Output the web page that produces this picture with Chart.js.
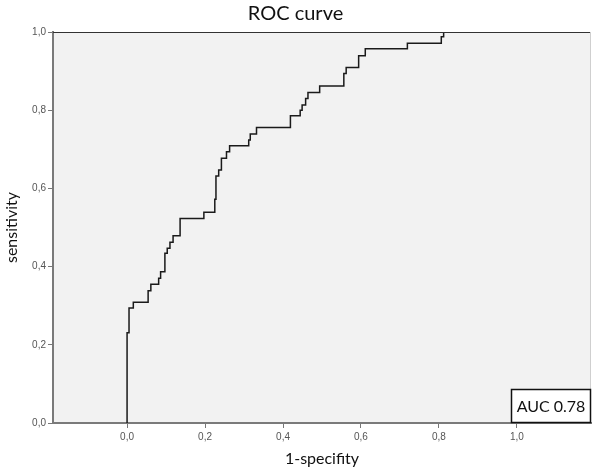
<!DOCTYPE html>
<html>
<head>
    <style>
        body {
            margin: 0;
            background: #fff;
        }
    </style>
    <script src="https://cdn.jsdelivr.net/npm/chart.js"></script>
</head>
<body>
    <canvas id="rocChart" width="600" height="472"></canvas>

    <script>
        // ROC step curve (1-specificity, sensitivity)
        const fpr = [0, 0, 0.005, 0.016, 0.054, 0.061, 0.081, 0.086, 0.097, 0.103, 0.110, 0.118, 0.136,
            0.197, 0.225, 0.228, 0.235, 0.242, 0.255, 0.263, 0.312, 0.316, 0.332, 0.419, 0.444, 0.449,
            0.458, 0.464, 0.494, 0.556, 0.562, 0.594, 0.611, 0.719, 0.806, 0.812, 1.0];
        const tpr = [0, 0.231, 0.294, 0.309, 0.338, 0.355, 0.370, 0.387, 0.434, 0.447, 0.462, 0.479, 0.523,
            0.539, 0.572, 0.632, 0.647, 0.677, 0.694, 0.709, 0.724, 0.739, 0.756, 0.786, 0.800, 0.813,
            0.830, 0.845, 0.862, 0.894, 0.909, 0.939, 0.957, 0.971, 0.988, 1.0, 1.0];

        const xTicks = [0, 0.2, 0.4, 0.6, 0.8, 1.0];
        const yTicks = [0, 0.2, 0.4, 0.6, 0.8, 1.0];
        const aucLabel = 'AUC 0.78';

        const fmt = v => Number(v).toFixed(1).replace('.', ',');

        // grey plot background + frame + AUC box
        const plotDecor = {
            id: 'plotDecor',
            beforeDraw(chart) {
                const { ctx, chartArea: a } = chart;
                ctx.save();
                ctx.fillStyle = '#f2f2f2';
                ctx.fillRect(a.left, a.top, a.right - a.left, a.bottom - a.top);
                ctx.restore();
            },
            afterDraw(chart) {
                const { ctx, chartArea: a } = chart;
                ctx.save();
                ctx.strokeStyle = '#333';
                ctx.lineWidth = 1;
                ctx.beginPath();
                ctx.moveTo(a.left, a.top + 0.5);
                ctx.lineTo(a.right, a.top + 0.5);
                ctx.stroke();
                ctx.strokeStyle = '#cfcfcf';
                ctx.beginPath();
                ctx.moveTo(a.right - 0.5, a.top);
                ctx.lineTo(a.right - 0.5, a.bottom);
                ctx.stroke();

                // AUC box
                const w = 80, h = 34;
                const bx = a.right - w, by = a.bottom - h;
                ctx.fillStyle = '#fff';
                ctx.fillRect(bx, by, w, h);
                ctx.strokeStyle = '#111';
                ctx.lineWidth = 1.5;
                ctx.strokeRect(bx + 0.5, by + 0.5, w - 1, h - 1);
                ctx.fillStyle = '#111';
                ctx.font = '16px Lato, "Open Sans", sans-serif';
                ctx.textAlign = 'center';
                ctx.textBaseline = 'middle';
                ctx.fillText(aucLabel, bx + w / 2, by + h / 2 + 1);
                ctx.restore();
            }
        };

        new Chart(document.getElementById('rocChart'), {
            type: 'scatter',
            data: {
                datasets: [{
                    data: fpr.map((x, i) => ({ x: x, y: tpr[i] })),
                    showLine: true,
                    stepped: 'before',
                    borderColor: '#1a1a1a',
                    borderWidth: 1.5,
                    pointRadius: 0,
                    fill: false
                }]
            },
            options: {
                responsive: false,
                animation: false,
                devicePixelRatio: 1,
                layout: { padding: { left: 0, right: 9, top: 0, bottom: 0 } },
                plugins: {
                    legend: { display: false },
                    tooltip: { enabled: false },
                    title: {
                        display: true,
                        text: 'ROC curve',
                        color: '#111',
                        font: { family: 'Lato, "Open Sans", sans-serif', size: 20, weight: 'normal' },
                        padding: { top: 2, bottom: 6 }
                    }
                },
                scales: {
                    x: {
                        type: 'linear',
                        min: -0.19,
                        max: 1.19,
                        afterBuildTicks: s => { s.ticks = xTicks.map(v => ({ value: v })); },
                        afterFit: s => { s.height = 49; },
                        ticks: {
                            callback: v => fmt(v),
                            color: '#555',
                            font: { size: 10 },
                            padding: 3,
                            maxRotation: 0
                        },
                        grid: { drawOnChartArea: false, drawTicks: true, tickLength: 5, color: '#777' },
                        border: { display: true, color: '#7a7a7a', width: 2 },
                        title: {
                            display: true,
                            text: '1-specifity',
                            color: '#111',
                            font: { family: 'Lato, "Open Sans", sans-serif', size: 16 },
                            padding: { top: 4, bottom: 4 }
                        }
                    },
                    y: {
                        type: 'linear',
                        min: 0,
                        max: 1,
                        afterBuildTicks: s => { s.ticks = yTicks.map(v => ({ value: v })); },
                        afterFit: s => { s.width = 53; },
                        ticks: {
                            callback: v => fmt(v),
                            color: '#555',
                            font: { size: 10 },
                            padding: 2
                        },
                        grid: { drawOnChartArea: false, drawTicks: true, tickLength: 5, color: '#777' },
                        border: { display: true, color: '#7a7a7a', width: 2 },
                        title: {
                            display: true,
                            text: 'sensitivity',
                            color: '#111',
                            font: { family: 'Lato, "Open Sans", sans-serif', size: 16 },
                            padding: { top: 2, bottom: 4 }
                        }
                    }
                }
            },
            plugins: [plotDecor]
        });
    </script>
</body>
</html>
